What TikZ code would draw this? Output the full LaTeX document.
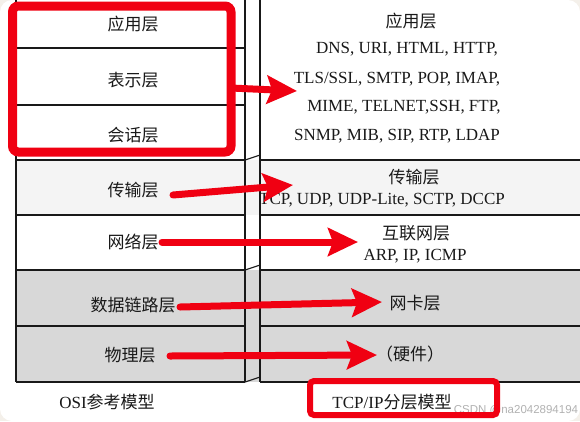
\documentclass[tikz,border=0pt]{standalone}
\usepackage{fontspec}
\setmainfont{Liberation Serif}
\newfontfamily\cjk{Noto Sans CJK SC}
\newfontfamily\wmfont{Liberation Sans}
\usetikzlibrary{arrows.meta}
\definecolor{redbox}{RGB}{240,0,18}
\definecolor{bgbeige}{RGB}{244,240,234}
\definecolor{layergray}{RGB}{216,216,216}
\definecolor{lightlayer}{RGB}{244,244,244}
\definecolor{ink}{RGB}{25,25,25}
\begin{document}
\begin{tikzpicture}[x=1pt,y=-1pt,
  cn/.style={font=\cjk\fontsize{17}{19}\selectfont, text=ink, inner sep=0pt},
  en/.style={font=\fontsize{17}{19}\selectfont, text=ink, inner sep=0pt},
  gridline/.style={line width=1.1pt, draw=ink},
  redarrow/.style={draw=redbox, line width=7pt, line cap=round, -{Stealth[length=30pt,width=28pt,inset=5pt]}},
]
\useasboundingbox (0,0) rectangle (580,421);
\fill[bgbeige] (0,0) rectangle (580,421);
\fill[white, rounded corners=12pt] (0,0) rectangle (580,421);
% layer fills
\fill[lightlayer] (16,160) rectangle (580,215);
\fill[layergray] (16,270) rectangle (580,382);
% left table
\draw[gridline] (16,0) -- (16,382);
\draw[gridline] (245,0) -- (245,382);
\foreach \yy in {48,105,160,215,270,326,382} {\draw[gridline] (16,\yy) -- (245,\yy);}
% right table
\draw[gridline] (260,0) -- (260,382);
\foreach \yy in {160,215,270,326,382} {\draw[gridline] (260,\yy) -- (580,\yy);}
% joints
\draw[gridline] (245,160) -- (260,155);
\draw[gridline] (245,270) -- (260,265);
\draw[gridline] (245,382) -- (260,377);
% left labels
\node[cn] (lapp) at (133,24) {应用层};
\node[cn] (lpres) at (133,80) {表示层};
\node[cn] (lsess) at (133,135) {会话层};
\node[cn] (ltrans) at (133,190) {传输层};
\node[cn] (lnet) at (133,242) {网络层};
\node[cn] (llink) at (133,305) {数据链路层};
\node[cn] (lphys) at (130,355) {物理层};
% right labels
\node[cn] (rapp) at (411,21) {应用层};
\node[en] (r1) at (407,49) {DNS, URI, HTML, HTTP,};
\node[en] (r2) at (397,79) {TLS/SSL, SMTP, POP, IMAP,};
\node[en] (r3) at (404,107) {MIME, TELNET,SSH, FTP,};
\node[en] (r4) at (397,136) {SNMP, MIB, SIP, RTP, LDAP};
\node[cn] (rtrans) at (414,177) {传输层};
\node[en] (rtp) at (382,200) {TCP, UDP, UDP-Lite, SCTP, DCCP};
\node[cn] (rnet) at (416,233) {互联网层};
\node[en] (rnp) at (415,256) {ARP, IP, ICMP};
\node[cn] (rlink) at (415,303) {网卡层};
\node[cn] (rhw) at (410,354) {（硬件）};
% captions
\node[en] (osicap) at (107,402) {OSI{\cjk 参考模型}};
\node[en] (tcpcap) at (392,402) {TCP/IP{\cjk 分层模型}};
\node[font=\wmfont\fontsize{11.5}{13}\selectfont, text=black!30, inner sep=0pt] (wm) at (516,410) {CSDN @na2042894194};
% red boxes
\node[draw=redbox, line width=9pt, rounded corners=6pt, minimum width=218.5pt, minimum height=146pt, inner sep=0pt] (osibox) at (121.75,79) {};
\node[draw=redbox, line width=6pt, rounded corners=4pt, minimum width=187pt, minimum height=34pt, inner sep=0pt] (tcpbox) at (403.5,398) {};
% arrow ends
\coordinate (a1s) at (231,88);   \coordinate (a1e) at (297,91);
\coordinate (a2s) at (173,195);  \coordinate (a2e) at (293,185);
\coordinate (a3s) at (162,242);  \coordinate (a3e) at (358,242);
\coordinate (a4s) at (180,307);  \coordinate (a4e) at (382,302);
\coordinate (a5s) at (170,356);  \coordinate (a5e) at (377,355);
\draw[redarrow] (a1s) -- (a1e);
\draw[redarrow] (a2s) -- (a2e);
\draw[redarrow] (a3s) -- (a3e);
\draw[redarrow] (a4s) -- (a4e);
\draw[redarrow] (a5s) -- (a5e);
\end{tikzpicture}
\end{document}
